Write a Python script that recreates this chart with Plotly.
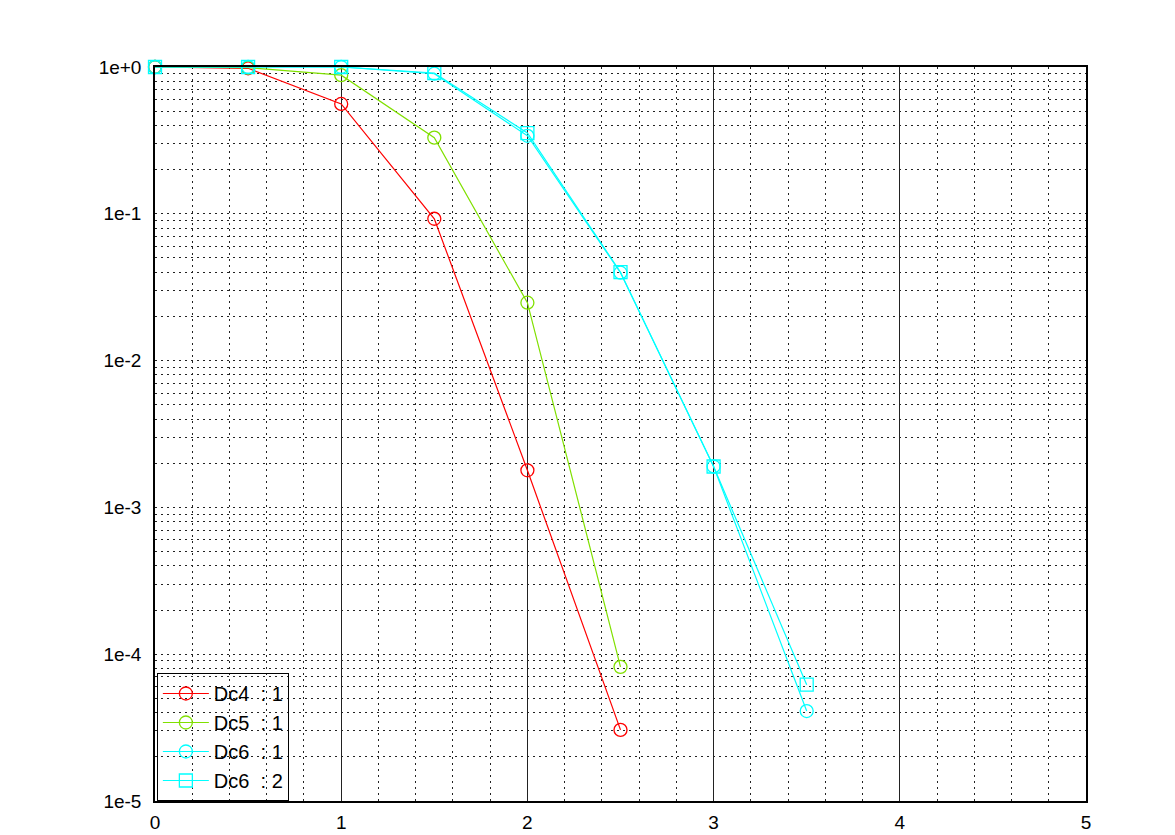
import plotly.graph_objects as go

x_dc4 = [0, 0.5, 1, 1.5, 2, 2.5]
y_dc4 = [1.0, 0.98, 0.56, 0.0925, 0.00179, 3.05e-5]
x_dc5 = [0, 0.5, 1, 1.5, 2, 2.5]
y_dc5 = [1.0, 0.99, 0.88, 0.33, 0.0248, 8.2e-5]
x_dc6a = [0, 0.5, 1, 1.5, 2, 2.5, 3, 3.5]
y_dc6a = [1.0, 1.0, 1.0, 0.90, 0.34, 0.0397, 0.0019, 4.1e-5]
x_dc6b = [0, 0.5, 1, 1.5, 2, 2.5, 3, 3.5]
y_dc6b = [1.0, 1.0, 1.0, 0.91, 0.355, 0.040, 0.0019, 6.2e-5]
names = ["Dc4  : 1", "Dc5  : 1", "Dc6  : 1", "Dc6  : 2"]
colors = ["#ff0000", "#80e000", "#00ffff", "#00ffff"]
symbols = ["circle-open", "circle-open", "circle-open", "square-open"]
ytickvals = [1e-5, 1e-4, 1e-3, 1e-2, 1e-1, 1]
yticktext = ["1e-5", "1e-4", "1e-3", "1e-2", "1e-1", "1e+0"]

fig = go.Figure()
for xs, ys, n, c, s in zip([x_dc4, x_dc5, x_dc6a, x_dc6b],
                           [y_dc4, y_dc5, y_dc6a, y_dc6b], names, colors, symbols):
    fig.add_trace(go.Scatter(x=xs, y=ys, name=n, mode="lines+markers",
                             cliponaxis=False,
                             line=dict(color=c, width=1.2),
                             marker=dict(symbol=s, size=13, color=c,
                                         line=dict(color=c, width=1.3))))

dotdash = "2px,4px"
fig.update_layout(
    width=1175, height=835,
    margin=dict(l=155, r=89, t=67, b=34, autoexpand=False),
    paper_bgcolor="white", plot_bgcolor="white",
    font=dict(family="Liberation Sans, Arial, sans-serif", size=19, color="black"),
    showlegend=True,
    legend=dict(x=0.002, y=0.0, xanchor="left", yanchor="bottom",
                bordercolor="black", borderwidth=1, bgcolor="rgba(0,0,0,0)",
                font=dict(size=20), tracegroupgap=0, itemwidth=46),
    xaxis=dict(range=[0, 5], dtick=1, tick0=0, showgrid=True, automargin=False,
               gridcolor="#222222", gridwidth=1.3, ticklabelstandoff=3,
               showline=True, linecolor="black", linewidth=1.5, mirror=True,
               ticks="", zeroline=False,
               minor=dict(dtick=0.2, showgrid=True, gridcolor="#222222",
                          griddash=dotdash, gridwidth=1)),
    yaxis=dict(type="log", range=[-5, 0], showgrid=True, automargin=False,
               tickvals=ytickvals, ticktext=yticktext, ticklabelstandoff=8,
               gridcolor="#222222", griddash=dotdash, gridwidth=1,
               showline=True, linecolor="black", linewidth=1.5, mirror=True,
               ticks="", zeroline=False,
               minor=dict(dtick="D1", showgrid=True, gridcolor="#222222",
                          griddash=dotdash, gridwidth=1)),
)
fig.write_html("out.html", config={"displayModeBar": False},
               post_script="document.body.style.margin='0';document.body.style.overflow='hidden';")
